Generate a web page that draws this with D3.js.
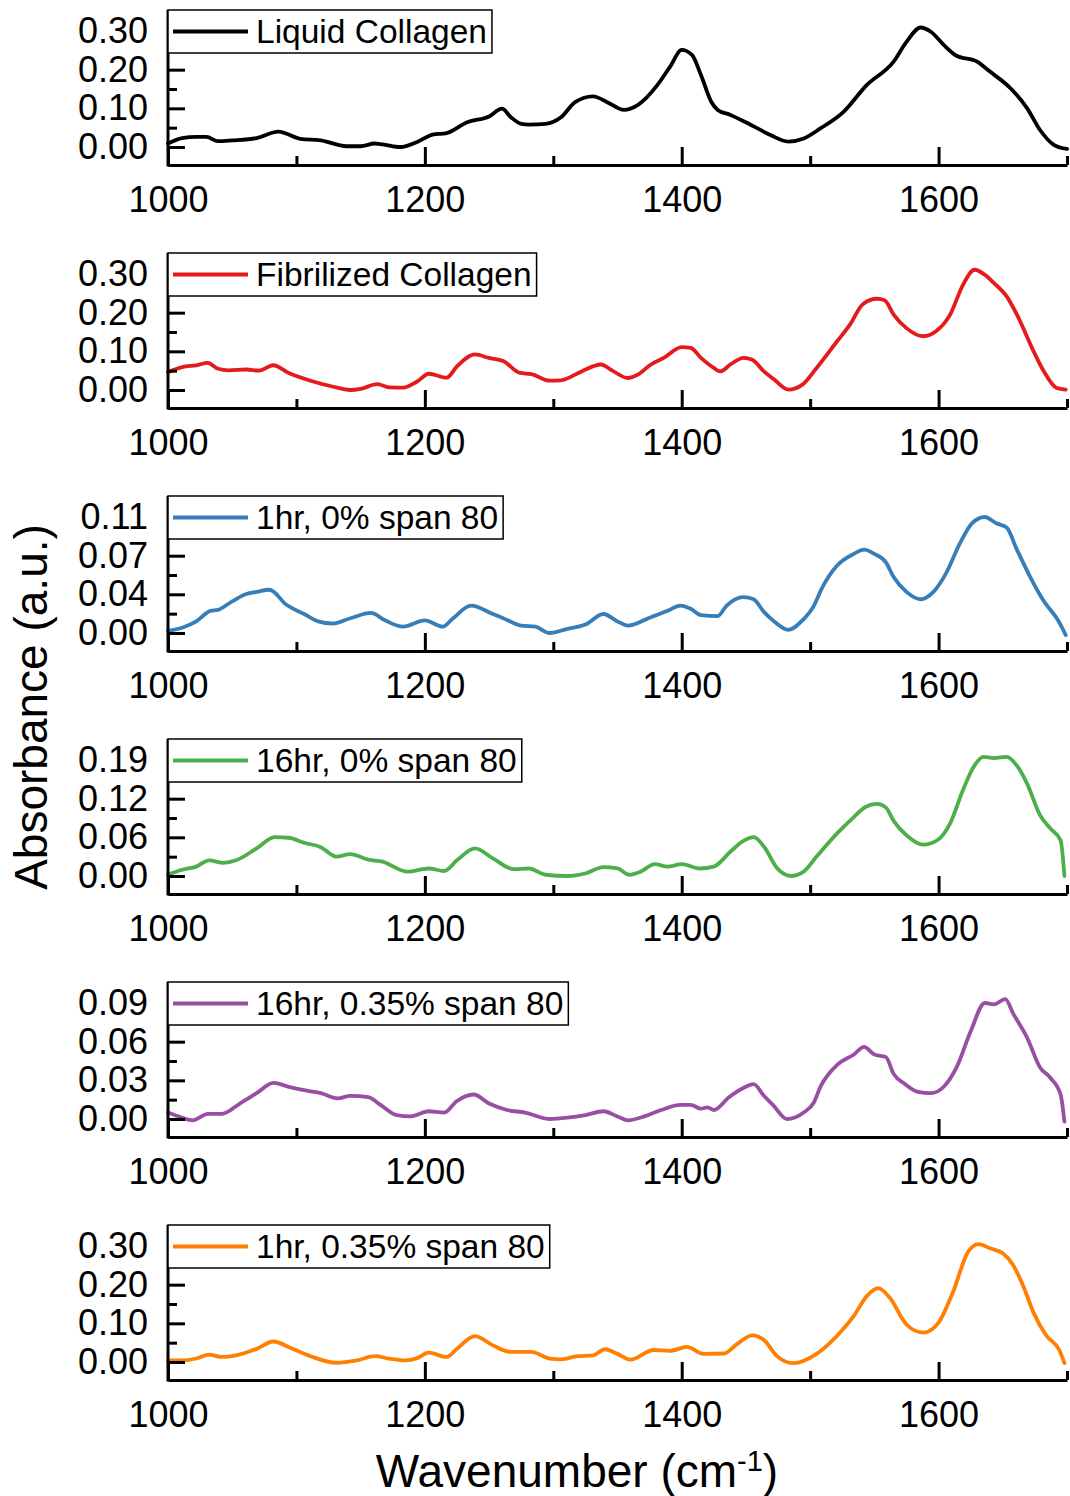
<!DOCTYPE html>
<html>
<head>
<meta charset="utf-8">
<script src="https://cdn.jsdelivr.net/npm/d3@7"></script>
<style>
  html, body { margin: 0; padding: 0; background: #fff; }
  svg { display: block; }
  text { font-family: "Liberation Sans", Arial, sans-serif; fill: #000; }
</style>
</head>
<body>
<svg id="chart" width="1070" height="1496"></svg>
<script>
// ---------------- DATA ----------------
const seriesNames = ["Liquid Collagen", "Fibrilized Collagen", "1hr, 0% span 80",
                     "16hr, 0% span 80", "16hr, 0.35% span 80", "1hr, 0.35% span 80"];
const seriesColors = ["#000000", "#e41a1c", "#377eb8", "#4daf4a", "#984ea3", "#ff7f00"];

const xTickMajor = [1000, 1200, 1400, 1600];
const xTickMinor = [1100, 1300, 1500, 1700];
const xDomain = [1000, 1700];

const yTickValues = [
  [0, 0.10, 0.20, 0.30],
  [0, 0.10, 0.20, 0.30],
  [0, 0.0367, 0.0733, 0.11],
  [0, 0.0617, 0.1233, 0.185],
  [0, 0.03, 0.06, 0.09],
  [0, 0.10, 0.20, 0.30]
];
const yTickLabels = [
  ["0.00", "0.10", "0.20", "0.30"],
  ["0.00", "0.10", "0.20", "0.30"],
  ["0.00", "0.04", "0.07", "0.11"],
  ["0.00", "0.06", "0.12", "0.19"],
  ["0.00", "0.03", "0.06", "0.09"],
  ["0.00", "0.10", "0.20", "0.30"]
];

const liquidCollagen = [[1000,0.009],[1011,0.023],[1022,0.026],[1030,0.026],[1039,0.015],[1050,0.017],[1069,0.023],[1086,0.040],[1103,0.021],[1119,0.017],[1139,0.002],[1150,0.002],[1161,0.009],[1167,0.007],[1181,0.000],[1194,0.013],[1206,0.032],[1217,0.036],[1233,0.064],[1250,0.079],[1260,0.099],[1267,0.077],[1275,0.060],[1281,0.058],[1294,0.060],[1306,0.077],[1317,0.116],[1331,0.131],[1342,0.116],[1355,0.096],[1366,0.109],[1381,0.160],[1391,0.208],[1400,0.251],[1408,0.238],[1415,0.186],[1423,0.117],[1428,0.096],[1438,0.083],[1454,0.057],[1469,0.031],[1483,0.014],[1495,0.022],[1508,0.048],[1526,0.091],[1544,0.160],[1565,0.221],[1575,0.272],[1586,0.309],[1594,0.298],[1604,0.264],[1614,0.236],[1630,0.221],[1640,0.195],[1656,0.152],[1669,0.100],[1679,0.044],[1690,0.005],[1700,-0.005]];

const fibrilizedCollagen = [[1000,0.046],[1011,0.059],[1022,0.064],[1031,0.070],[1039,0.055],[1047,0.051],[1061,0.053],[1071,0.050],[1082,0.064],[1094,0.044],[1111,0.024],[1128,0.009],[1142,0.000],[1150,0.003],[1163,0.015],[1172,0.007],[1183,0.006],[1194,0.022],[1203,0.042],[1217,0.032],[1225,0.061],[1239,0.092],[1250,0.083],[1261,0.075],[1274,0.044],[1283,0.041],[1297,0.024],[1306,0.025],[1322,0.048],[1337,0.066],[1346,0.050],[1358,0.031],[1366,0.040],[1376,0.066],[1386,0.083],[1400,0.111],[1407,0.109],[1415,0.083],[1425,0.057],[1430,0.048],[1438,0.066],[1448,0.083],[1455,0.078],[1464,0.048],[1472,0.027],[1483,0.001],[1494,0.014],[1505,0.057],[1521,0.126],[1531,0.169],[1541,0.222],[1552,0.236],[1558,0.232],[1565,0.195],[1575,0.160],[1588,0.139],[1598,0.152],[1609,0.195],[1619,0.272],[1628,0.311],[1636,0.298],[1643,0.277],[1653,0.242],[1661,0.195],[1674,0.100],[1682,0.048],[1692,0.005],[1699,0.001]];

const oneHr0 = [[1000,0.002],[1011,0.005],[1022,0.011],[1033,0.021],[1039,0.022],[1050,0.030],[1061,0.037],[1069,0.039],[1079,0.041],[1092,0.027],[1106,0.018],[1117,0.011],[1128,0.009],[1142,0.014],[1158,0.019],[1169,0.012],[1183,0.006],[1200,0.012],[1214,0.006],[1222,0.014],[1236,0.026],[1253,0.018],[1261,0.014],[1275,0.007],[1286,0.006],[1297,0.000],[1311,0.004],[1325,0.008],[1339,0.018],[1350,0.011],[1358,0.007],[1376,0.015],[1389,0.021],[1399,0.026],[1407,0.023],[1415,0.017],[1428,0.016],[1435,0.026],[1448,0.034],[1456,0.032],[1464,0.020],[1471,0.012],[1483,0.003],[1494,0.012],[1503,0.026],[1509,0.042],[1521,0.064],[1534,0.075],[1542,0.079],[1550,0.075],[1559,0.067],[1565,0.053],[1575,0.039],[1586,0.032],[1596,0.039],[1606,0.057],[1617,0.086],[1626,0.104],[1636,0.110],[1645,0.104],[1653,0.100],[1661,0.079],[1671,0.054],[1681,0.032],[1694,0.010],[1699,-0.002]];

const sixteenHr0 = [[1000,0.002],[1011,0.010],[1022,0.015],[1032,0.025],[1043,0.021],[1053,0.025],[1069,0.044],[1083,0.062],[1094,0.061],[1106,0.053],[1119,0.046],[1131,0.031],[1142,0.035],[1156,0.026],[1167,0.023],[1186,0.007],[1203,0.012],[1215,0.008],[1225,0.025],[1239,0.044],[1253,0.028],[1269,0.011],[1281,0.012],[1294,0.002],[1311,0.000],[1325,0.004],[1339,0.014],[1350,0.012],[1359,0.002],[1368,0.007],[1379,0.019],[1389,0.015],[1400,0.019],[1414,0.012],[1425,0.015],[1438,0.039],[1448,0.056],[1456,0.062],[1465,0.044],[1474,0.013],[1485,0.000],[1495,0.007],[1505,0.031],[1521,0.068],[1534,0.094],[1543,0.110],[1552,0.115],[1559,0.109],[1565,0.088],[1575,0.065],[1588,0.050],[1599,0.057],[1609,0.084],[1619,0.137],[1627,0.173],[1635,0.190],[1643,0.188],[1653,0.190],[1661,0.176],[1669,0.147],[1679,0.097],[1687,0.076],[1695,0.057],[1698,0.000]];

const sixteenHr035 = [[1000,0.005],[1008,0.002],[1019,-0.001],[1031,0.004],[1042,0.004],[1056,0.012],[1069,0.020],[1082,0.028],[1094,0.025],[1108,0.022],[1119,0.020],[1132,0.016],[1142,0.018],[1156,0.017],[1164,0.012],[1178,0.003],[1189,0.002],[1203,0.006],[1215,0.005],[1225,0.014],[1238,0.019],[1250,0.012],[1264,0.007],[1278,0.005],[1297,0.000],[1311,0.001],[1325,0.003],[1339,0.006],[1350,0.002],[1358,-0.001],[1371,0.002],[1384,0.007],[1399,0.011],[1407,0.011],[1415,0.008],[1420,0.009],[1425,0.007],[1437,0.017],[1448,0.024],[1456,0.027],[1464,0.018],[1471,0.011],[1482,0.000],[1495,0.005],[1503,0.013],[1508,0.025],[1521,0.042],[1534,0.050],[1542,0.056],[1550,0.050],[1559,0.048],[1565,0.035],[1574,0.027],[1584,0.021],[1594,0.020],[1604,0.025],[1614,0.040],[1625,0.068],[1636,0.090],[1643,0.089],[1652,0.093],[1658,0.082],[1669,0.063],[1679,0.040],[1687,0.032],[1695,0.019],[1698,-0.002]];

const oneHr035 = [[1000,0.004],[1011,0.004],[1022,0.009],[1032,0.019],[1042,0.013],[1053,0.017],[1069,0.034],[1082,0.053],[1097,0.034],[1111,0.015],[1131,-0.002],[1147,0.004],[1161,0.015],[1172,0.009],[1185,0.004],[1194,0.010],[1203,0.024],[1217,0.013],[1225,0.034],[1239,0.067],[1253,0.043],[1267,0.026],[1283,0.026],[1297,0.009],[1306,0.007],[1319,0.015],[1331,0.017],[1340,0.033],[1350,0.021],[1360,0.006],[1378,0.031],[1391,0.029],[1404,0.039],[1417,0.021],[1433,0.022],[1443,0.046],[1455,0.069],[1464,0.057],[1474,0.016],[1487,-0.003],[1505,0.021],[1521,0.068],[1534,0.119],[1544,0.170],[1553,0.191],[1562,0.166],[1575,0.097],[1588,0.076],[1600,0.102],[1611,0.179],[1623,0.285],[1631,0.305],[1640,0.294],[1650,0.281],[1658,0.251],[1666,0.196],[1674,0.127],[1684,0.068],[1694,0.031],[1698,-0.003]];

const allSeries = [liquidCollagen, fibrilizedCollagen, oneHr0, sixteenHr0, sixteenHr035, oneHr035];

// ---------------- LAYOUT ----------------
const W = 1070, H = 1496;
const plotLeft = 168, plotRight = 1067;
const panelStep = 243;
const zeroY0 = 147, topTickY0 = 31, axisY0 = 165, frameTop0 = 10;
const fontFamily = '"Liberation Sans", Arial, sans-serif';

const svg = d3.select("#chart");
svg.append("rect").attr("width", W).attr("height", H).attr("fill", "#fff");

const x = d3.scaleLinear().domain(xDomain).range([plotLeft, plotRight]);

allSeries.forEach((data, i) => {
  const dy = i * panelStep;
  const ticks = yTickValues[i];
  const top = ticks[ticks.length - 1];
  const y = d3.scaleLinear().domain([0, top]).range([zeroY0 + dy, topTickY0 + dy]);
  const g = svg.append("g");

  // curve
  const line = d3.line().x(d => x(d[0])).y(d => y(d[1])).curve(d3.curveMonotoneX);
  g.append("path").datum(data)
    .attr("d", line)
    .attr("fill", "none")
    .attr("stroke", seriesColors[i])
    .attr("stroke-width", 3.8)
    .attr("stroke-linejoin", "round")
    .attr("stroke-linecap", "round");

  // minor y ticks (midpoints)
  const minorY = d3.range(ticks.length - 1).map(k => (ticks[k] + ticks[k + 1]) / 2);
  const yMinor = d3.axisLeft(y).tickValues(minorY).tickSizeInner(-9).tickSizeOuter(0).tickFormat("");
  const gyMinor = g.append("g").attr("transform", `translate(${plotLeft},0)`).call(yMinor);
  gyMinor.select(".domain").remove();
  gyMinor.selectAll("line").attr("stroke", "#000").attr("stroke-width", 3);

  // major y ticks with labels
  const yAxis = d3.axisLeft(y).tickValues(ticks).tickSizeInner(-17).tickSizeOuter(0)
    .tickPadding(20).tickFormat((d, k) => yTickLabels[i][k]);
  const gy = g.append("g").attr("transform", `translate(${plotLeft},0)`).call(yAxis);
  gy.select(".domain").remove();
  gy.selectAll("line").attr("stroke", "#000").attr("stroke-width", 3);
  gy.selectAll("text").attr("font-size", 36).attr("font-family", fontFamily).attr("fill", "#000");

  // left axis line
  g.append("line")
    .attr("x1", plotLeft).attr("x2", plotLeft)
    .attr("y1", frameTop0 + dy).attr("y2", axisY0 + dy + 1.5)
    .attr("stroke", "#000").attr("stroke-width", 3);

  // bottom axis
  const xMinor = d3.axisBottom(x).tickValues(xTickMinor).tickSizeInner(-9).tickSizeOuter(0).tickFormat("");
  const gxMinor = g.append("g").attr("transform", `translate(0,${axisY0 + dy})`).call(xMinor);
  gxMinor.select(".domain").remove();
  gxMinor.selectAll("line").attr("stroke", "#000").attr("stroke-width", 3);

  const xAxis = d3.axisBottom(x).tickValues(xTickMajor).tickSizeInner(-18).tickSizeOuter(0)
    .tickPadding(21).tickFormat(d3.format("d"));
  const gx = g.append("g").attr("transform", `translate(0,${axisY0 + dy})`).call(xAxis);
  gx.select(".domain").attr("stroke", "#000").attr("stroke-width", 3);
  gx.selectAll("line").attr("stroke", "#000").attr("stroke-width", 3);
  gx.selectAll("text").attr("font-size", 36).attr("font-family", fontFamily).attr("fill", "#000");

  // legend
  const lg = g.append("g");
  const boxTop = frameTop0 + dy, boxH = 43, cy = boxTop + boxH / 2;
  const box = lg.append("rect")
    .attr("x", plotLeft).attr("y", boxTop).attr("height", boxH)
    .attr("fill", "#fff").attr("stroke", "#000").attr("stroke-width", 1.5);
  lg.append("line")
    .attr("x1", plotLeft + 5).attr("x2", plotLeft + 80)
    .attr("y1", cy).attr("y2", cy)
    .attr("stroke", seriesColors[i]).attr("stroke-width", 3.8);
  const t = lg.append("text")
    .attr("x", plotLeft + 88).attr("y", cy).attr("dy", "0.35em")
    .attr("font-size", 33.5).attr("font-family", fontFamily)
    .text(seriesNames[i]);
  const tw = t.node().getComputedTextLength();
  box.attr("width", 88 + tw + 5);
});

// axis titles
svg.append("text")
  .attr("transform", "translate(47,707) rotate(-90)")
  .attr("text-anchor", "middle")
  .attr("font-size", 46).attr("font-family", fontFamily)
  .text("Absorbance (a.u.)");

const xt = svg.append("text")
  .attr("x", 577).attr("y", 1487)
  .attr("text-anchor", "middle")
  .attr("font-size", 46).attr("font-family", fontFamily);
xt.append("tspan").text("Wavenumber (cm");
xt.append("tspan").attr("font-size", 29).attr("baseline-shift", "super").text("-1");
xt.append("tspan").text(")");
</script>
</body>
</html>
